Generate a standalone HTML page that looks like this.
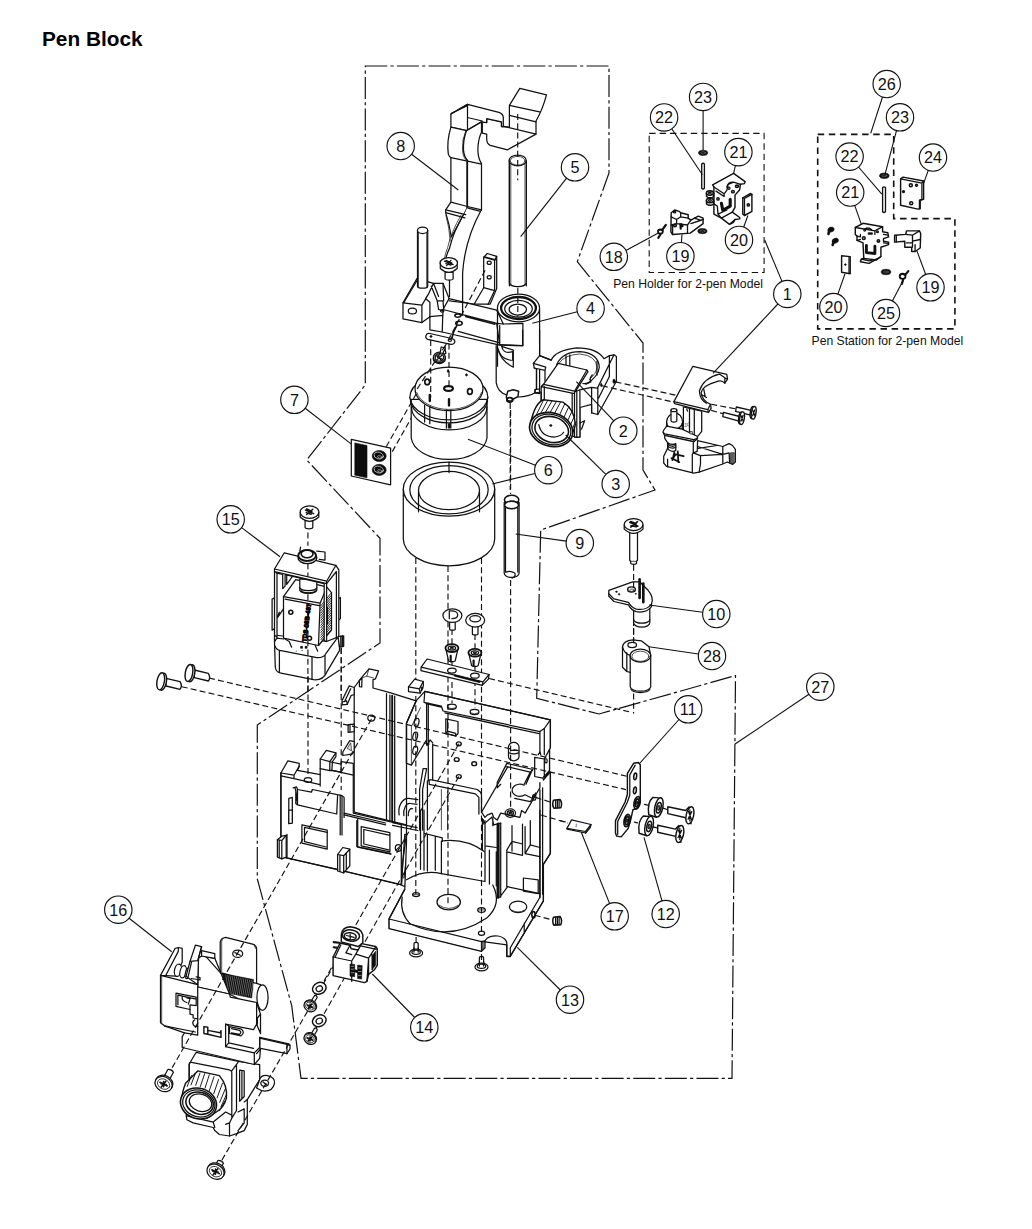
<!DOCTYPE html>
<html lang="en"><head><meta charset="utf-8"><title>Pen Block</title>
<style>
html,body{margin:0;padding:0;background:#fff;}
body{width:1032px;height:1229px;overflow:hidden;font-family:"Liberation Sans",sans-serif;}
svg{display:block;}
.p{fill:none;stroke:#111;stroke-width:1.25;stroke-linejoin:round;stroke-linecap:round;}
.w{fill:#fff;stroke:#111;stroke-width:1.25;stroke-linejoin:round;stroke-linecap:round;}
.t{fill:none;stroke:#222;stroke-width:0.8;stroke-linejoin:round;stroke-linecap:round;}
.k{fill:#0c0c0c;stroke:#0c0c0c;stroke-width:0.6;stroke-linejoin:round;}
.g{fill:#ddd;stroke:#1a1a1a;stroke-width:0.7;stroke-linejoin:round;}
.dd{fill:none;stroke:#111;stroke-width:1.2;stroke-dasharray:22 3.2 3.2 3.2;}
.da{fill:none;stroke:#111;stroke-width:1.15;stroke-dasharray:6 3.2;}
.db{fill:none;stroke:#111;stroke-width:1.1;stroke-dasharray:6.4 4;}
.ld{fill:none;stroke:#111;stroke-width:1.1;}
.c{fill:#fff;stroke:#111;stroke-width:1.15;}
.n{font-family:"Liberation Sans",sans-serif;font-size:16.2px;fill:#111;text-anchor:middle;}
.lb{font-family:"Liberation Sans",sans-serif;font-size:12.2px;fill:#111;}
</style></head><body>
<svg width="1032" height="1229" viewBox="0 0 1032 1229">
<rect width="1032" height="1229" fill="#fff"/>
<g id="title">
<text x="42" y="45.8" font-family="Liberation Sans, sans-serif" font-weight="bold" font-size="20.8px" fill="#000">Pen Block</text>
<text class="lb" x="613.2" y="287.7">Pen Holder for 2-pen Model</text>
<text class="lb" x="811.5" y="345">Pen Station for 2-pen Model</text>
</g>
<g id="outlines">
<path class="dd" d="M365.3 66H609V173L577.3 261.7L643 343V470L655 490L540.7 530L536.7 698.3L599 714L735.5 675.6L732 1078.4H301L291.7 1005.7L257.3 879V725L380 643V538.3L306.7 460L365.3 385Z"/>
<path class="db" d="M649.2 133.4H764.1V272.5H649.2Z"/>
<path class="db" d="M817.7 134.4H893.7V218.6H954.9V328.9H817.7Z" style="stroke-width:1.6;stroke-dasharray:6.5 4.6"/>
</g>
<g id="bracket">
<path class="w" d="M483.7 257.2 L487.3 253.5 L496.7 256.4 V288.4 L490.2 304.0 L474.2 304.0 L483.7 287.7Z"/>
<path class="p" d="M483.7 257.2 L494.6 260.1 V290.6 L488.0 304.4 M494.6 260.1 L496.7 256.4 M483.7 287.7 L494.6 290.6 M484.7 256.9 L495.6 259.8"/>
<ellipse class="p" cx="489.2" cy="262.7" rx="2.0" ry="1.7"/>
<ellipse class="p" cx="489.2" cy="277.2" rx="2.0" ry="1.7"/>
<path class="w" d="M403.0 302.9 L416.8 278.7 L433.5 283.3 L443.0 283.3 L449.1 298.6 L496.7 310.2 L503.3 324.0 L496.7 323.3 L499.7 345.1 L442.2 332.0 L429.9 329.8 V316.7 L421.9 322.6 L403.0 318.9Z"/>
<path class="p" d="M403.0 302.9 L421.9 305.1 V322.6 M421.9 305.1 L428.4 294.2 L433.5 283.3 M404.0 302.2 L417.5 279.7 M428.4 294.2 L425.5 298.6 L429.9 302.2 V316.7 M431.3 286.2 L437.2 300.8 H443.0 L443.7 309.5 M433.5 283.3 L438.6 296.4 M443.0 283.3 L443.7 300.8 M437.2 300.8 L438.6 309.5"/>
<ellipse class="p" cx="412.4" cy="310.9" rx="4.1" ry="2.9"/>
<path class="p" d="M449.1 298.6 L443.0 309.5 L496.7 323.3 M449.5 300.8 L474.2 304.0 M464.8 315.3 L495.3 322.8 M465.5 316.7 L495.0 324.3 M443.0 309.5 L442.2 332.0 M443.0 315.3 L429.9 316.7 M443.0 310.9 L438.6 309.5"/>
<path class="p" d="M458.2 331.3 L499.7 342.9"/>
<path class="w" d="M417.5 230.3 V286.2 A5.1 2.0 0 0 0 427.7 286.2 V230.3Z"/>
<path class="t" d="M418.5 231.0 V286.9 M426.7 231.0 V286.9"/>
<ellipse class="w" cx="422.6" cy="230.3" rx="5.1" ry="3.2"/>
<path class="p" d="M497.5 309.5 V366.2 M539.6 309.5 V366.2 M499.7 325.5 V342.9 M522.9 323.3 V345.8 L499.7 345.1 M503.3 324.0 L522.9 323.3"/>
<path class="p" d="M497.5 347.3 Q499.7 358.9 511.3 360.3 M501.8 346.5 Q503.3 354.5 512.7 351.6 V360.3"/>
<ellipse class="w" cx="518.5" cy="308.0" rx="21.1" ry="13.8"/>
<ellipse class="p" cx="518.5" cy="308.0" rx="17.4" ry="11.0" style="stroke-width:2.28"/>
<ellipse class="p" cx="518.5" cy="308.8" rx="13.8" ry="8.4"/>
<ellipse class="p" cx="517.8" cy="309.5" rx="8.7" ry="5.5"/>
<path class="da" d="M517.8 287.7 V316.7"/>
</g>
<g id="top">
<path class="w" d="M519.8 88.4 L546.5 94.8 Q542.5 109.7 536.0 121.0 V134.1 L507.6 149.8 L490.2 145.4 Q486.7 143.7 486.7 139.3 V134.1 L482.3 133.2 L482.3 122.7 L486.7 121.9 V118.7 L501.5 121.9 V126.7 L509.4 127.1 V105.3Z"/>
<path class="p" d="M509.4 105.3 L539.5 111.9 M509.4 115.4 L536.0 121.9 M503.3 126.2 L536.0 134.1"/>
<path class="w" d="M467.5 104.4 L498.9 112.3 Q503.3 114.0 503.3 117.5 V126.7 L501.5 126.4 V121.9 L486.7 118.7 V122.7 L481.5 121.9 L466.6 130.6 L450.9 127.1 V114.0Z"/>
<path class="p" d="M450.9 114.0 L467.5 104.4 M467.5 104.4 V130.6 M451.8 113.1 L467.8 105.5 M467.5 117.5 L482.3 121.0"/>
<path class="w" d="M450.9 127.1 Q446.6 141.0 448.3 154.1 Q449.2 156.7 450.9 157.6 V202.1 L445.7 209.9 V212.6 Q449.5 224.8 451.3 237.0 Q461.4 219.5 467.5 207.3 V160.2 Q464.0 156.7 463.5 149.8 Q463.1 139.3 466.6 130.6Z"/>
<path class="w" d="M466.6 130.6 Q463.1 139.3 463.5 149.8 Q464.0 156.7 467.5 160.2 V207.3 Q461.4 219.5 456.2 233.5 L473.6 230.0 Q476.2 221.3 481.5 209.9 V163.7 Q477.1 156.7 478.0 146.3 Q478.8 137.6 481.5 132.3 V121.9Z" style="stroke:none"/>
<path class="p" d="M467.5 207.3 V160.2 Q464.0 156.7 463.5 149.8 Q463.1 139.3 466.6 130.6 L481.5 121.9 V132.3 Q478.8 137.6 478.0 146.3 Q477.1 156.7 481.5 163.7 V209.9"/>
<path class="p" d="M450.9 157.6 L467.5 161.1 L481.5 164.1 M450.9 202.1 L467.5 206.5 L481.5 209.9 M445.7 209.9 L465.8 214.7 M445.7 212.6 L464.9 217.8 M468.0 208.2 L479.7 211.2"/>
<path class="t" d="M465.8 130.9 Q461.9 139.3 462.4 149.8 Q463.0 157.6 466.6 160.6 V208.2"/>
<path class="p" d="M509.4 160.6 V285.8 M526.3 160.6 V285.8"/>
<path class="w" d="M509.4 160.5V283A8.5 4 0 0 0 526.3 283V160.5Z"/>
<path class="t" d="M510.8 163V285M525 163V285"/>
<ellipse class="w" cx="517.7" cy="160.4" rx="8.5" ry="5.4"/>
<ellipse class="t" cx="517.7" cy="160.8" rx="7.3" ry="4.4"/>
<path class="da" d="M517.7 114.0 V180.3"/>
</g>
<g id="bracket2">
<path class="p" d="M481.5 209.5 Q464.8 239.7 462.6 273.1 V315.3"/>
<path class="p" d="M463.3 215.0 Q453.1 232.4 449.5 248.4 Q446.6 254.2 445.9 258.6"/>
<path class="t" d="M461.1 215.0 Q451.0 232.4 447.6 247.7 Q445.1 253.5 444.4 258.6"/>
<path class="t" d="M445.9 215.0 Q449.5 228.1 450.2 241.2"/>
<path class="w" d="M445.1 272.4 V279.0 A4.1 1.5 0 0 0 453.1 279.0 V272.4Z"/>
<path class="w" d="M440.3 263.4 V268.5 Q448.8 276.3 457.2 268.5 V263.4Z"/>
<ellipse class="w" cx="448.8" cy="263.0" rx="8.7" ry="5.5"/>
<path class="p" d="M444.4 261.2 L453.1 264.7 M451.0 260.3 L446.6 265.6 M445.9 260.3 L452.0 263.0 M445.9 263.7 L451.0 265.1"/>
<path class="p" d="M449.5 280.4 V296.4"/>
<path class="w" d="M426.2 334.9 Q424.8 337.8 427.7 339.3 L451.0 344.4 Q454.6 344.4 454.9 341.5 Q454.6 339.3 451.7 338.5 L429.9 333.5 Q427.0 333.0 426.2 334.9Z"/>
<ellipse class="k" cx="431.0" cy="336.4" rx="1.2" ry="0.9"/>
<ellipse class="p" cx="449.9" cy="340.3" rx="1.6" ry="1.2"/>
<path class="p" d="M451.7 338.5 Q453.1 331.3 456.8 325.5" style="stroke-width:1.68"/>
<ellipse class="p" cx="459.0" cy="323.3" rx="3.2" ry="2.0" style="stroke-width:1.56"/>
<ellipse class="p" cx="457.8" cy="315.6" rx="2.9" ry="1.7" style="stroke-width:1.56"/>
<ellipse class="p" cx="442.2" cy="310.9" rx="1.7" ry="1.2"/>
<path class="w" d="M441.5 350.9 L445.1 349.4 L445.9 353.1 L442.2 355.3Z"/>
<ellipse class="w" cx="439.3" cy="358.2" rx="6.1" ry="5.5"/>
<ellipse class="p" cx="439.3" cy="358.2" rx="4.4" ry="3.9"/>
<path class="p" d="M436.4 356.0 L442.2 360.3 M441.8 355.7 L436.9 360.6 M437.9 355.3 L440.8 361.1 M435.7 358.2 L443.0 358.2"/>
<path class="da" d="M485.1 270.2 L443.0 350.2"/>
</g>
<g id="coil">
<path class="da" d="M386.2 446.7 L422.0 383.6 M392.3 451.6 L430.7 383.6"/>
<path class="w" d="M351.3 439.4 L390.6 448.1 V484.8 L351.3 476.0Z"/>
<path class="k" d="M354.8 442.9 L367.0 445.5 V477.8 L354.8 475.2Z"/>
<ellipse class="k" cx="379.2" cy="456.0" rx="7.0" ry="5.6"/>
<ellipse class="p" cx="378.7" cy="455.6" rx="4.7" ry="3.3" transform="rotate(15 378.7 455.6)" style="stroke:#ddd;stroke-width:0.7"/>
<ellipse class="p" cx="379.8" cy="457.0" rx="2.3" ry="1.2" transform="rotate(15 379.8 457.0)" style="stroke:#ccc;stroke-width:0.6"/>
<ellipse class="k" cx="379.2" cy="469.9" rx="7.0" ry="5.6"/>
<ellipse class="p" cx="378.7" cy="469.6" rx="4.7" ry="3.3" transform="rotate(15 378.7 469.6)" style="stroke:#ddd;stroke-width:0.7"/>
<ellipse class="p" cx="379.8" cy="471.0" rx="2.3" ry="1.2" transform="rotate(15 379.8 471.0)" style="stroke:#ccc;stroke-width:0.6"/>
<path class="w" d="M403.3 489.1 V538.8 A45.7 27.0 0 0 0 494.7 538.8 V489.1Z"/>
<ellipse class="w" cx="449.0" cy="489.1" rx="45.7" ry="27.0"/>
<ellipse class="p" cx="449.0" cy="489.8" rx="39.2" ry="24.1"/>
<ellipse class="p" cx="449.0" cy="490.5" rx="30.5" ry="19.2"/>
<path class="p" d="M418.5 491.7 V511.8 M479.5 491.7 V511.8"/>
<path class="w" d="M411.2 399.3 V437.7 A38.0 23.5 0 0 0 487.0 437.7 V399.3Z"/>
<path class="p" d="M409.8 397.6 A39.2 24.4 0 0 0 487.9 397.6"/>
<path class="p" d="M410.5 401.0 A38.7 24.1 0 0 0 487.6 401.0"/>
<path class="p" d="M411.5 407.2 A37.7 22.7 0 0 0 486.9 407.2"/>
<path class="p" d="M409.8 397.6 A39.2 24.4 0 0 1 422.0 380.1 M487.9 397.6 A39.2 24.4 0 0 0 476.0 380.1"/>
<ellipse class="w" cx="449.0" cy="388.8" rx="34.0" ry="21.8"/>
<path class="t" d="M416.7 392.3 A33.1 21.3 0 0 0 481.6 392.3"/>
<ellipse class="p" cx="448.5" cy="388.5" rx="4.4" ry="2.4" style="stroke-width:2.16"/>
<ellipse class="p" cx="427.2" cy="381.9" rx="2.4" ry="2.8" style="stroke-width:1.68"/>
<ellipse class="p" cx="469.9" cy="391.5" rx="2.4" ry="2.8" style="stroke-width:1.68"/>
<ellipse class="k" cx="448.1" cy="371.0" rx="0.9" ry="1.4"/>
<ellipse class="k" cx="466.5" cy="374.9" rx="0.9" ry="1.2"/>
<path class="p" d="M429.8 394.9 V401.0 M449.0 399.3 V405.4" style="stroke-width:2.4"/>
<path class="p" d="M424.6 405.4 V422.0 M429.8 406.3 V423.7 M446.4 409.8 V428.1 M450.8 409.8 V428.1"/>
<path class="k" d="M448.1 423.7 H450.2 V428.1 H448.1Z"/>
<path class="da" d="M449.0 343.5 V388.8"/>
<path class="p" d="M449.0 462.1 V472.6"/>
<ellipse class="w" cx="439.4" cy="357.4" rx="5.8" ry="5.2"/>
<ellipse class="p" cx="439.4" cy="357.4" rx="4.2" ry="3.7"/>
<path class="w" d="M442.9 353.1 L445.5 347.8 L441.2 347.0 L440.3 352.2"/>
<path class="p" d="M436.3 355.7 L442.6 359.5 M442.0 355.3 L436.8 359.9 M437.7 354.7 L441.2 360.6"/>
<path class="da" d="M430.7 340.0 V397.6 M445.5 345.2 L415.0 392.3"/>
</g>
<g id="holder">
<path class="p" d="M496.2 345.5 V382.7 Q497.8 392.8 507.1 395.1 M539.6 330.0 V359.5 M499.3 344.7 L522.6 345.5 V330.0 M498.5 350.2 Q500.9 361.0 513.3 367.2 V350.2 L501.6 346.3"/>
<path class="p" d="M517.9 397.0 Q528.8 396.7 536.5 392.0"/>
<path class="w" d="M507.8 391.2 L513.3 389.7 L518.7 391.2 L517.9 396.7 L513.3 399.0 L511.7 401.3 L507.1 400.5 L506.3 396.7Z" style="stroke-width:1.44"/>
<ellipse class="p" cx="509.8" cy="399.8" rx="2.8" ry="2.2" style="stroke-width:1.92"/>
<path class="w" d="M533.4 363.3 L539.6 355.6 L551.2 360.2 Q555.1 350.2 576.8 347.8 Q597.0 347.8 604.0 358.7 L609.4 355.6 L614.0 354.8 L616.4 356.4 V381.2 L597.8 414.5 L591.6 412.9 V404.4 L579.9 407.5 V437.0 H574.5 L541.2 416.8 V392.0 L535.0 392.8 V389.7 L536.5 388.9 V368.8 L534.2 368.0Z"/>
<path class="p" d="M556.7 364.4 Q562.9 351.7 579.9 351.7 Q598.5 353.3 599.3 367.2 Q598.5 376.5 586.1 384.3"/>
<path class="t" d="M559.0 363.3 Q564.4 354.8 579.9 354.0 Q596.2 355.6 597.0 367.2 Q596.7 373.4 589.2 379.6"/>
<path class="p" d="M566.0 355.6 V364.9 M569.8 354.8 V366.0 M597.0 361.0 V375.0"/>
<path class="p" d="M592.3 375.0 Q589.2 378.1 590.8 381.9 Q586.1 384.3 583.0 383.5"/>
<path class="p" d="M533.4 363.3 L545.8 367.2 L545.0 370.3 L534.2 368.0 M539.6 355.6 L551.2 360.2 M536.5 368.8 V388.9 M539.6 369.5 V390.5 M535.0 389.7 L539.6 388.9 V393.6 L535.0 392.8ZM545.0 370.3 V381.2"/>
<path class="p" d="M609.4 355.6 V376.5 L598.5 398.2 M614.0 354.8 L597.8 387.4 V414.5 M591.6 387.4 L597.0 388.1 M591.6 387.4 V412.9 M580.7 389.7 L591.6 387.4 M616.4 381.2 L614.0 381.9"/>
<ellipse class="k" cx="614.0" cy="381.2" rx="1.1" ry="2.2"/>
<ellipse class="k" cx="601.3" cy="385.0" rx="0.8" ry="1.7"/>
<path class="w" d="M543.5 384.3 L558.2 363.3 L586.9 370.0 L588.0 371.6 L575.3 391.7 L579.9 389.7 V437.0 H574.5 V393.6 L541.2 386.6Z"/>
<path class="p" d="M543.5 384.3 L574.5 391.2 L586.9 370.0 M574.5 391.2 V393.6 M543.5 384.3 L541.2 387.4 V414.5 M544.3 386.6 V414.5 M572.2 393.6 V423.0 M576.8 391.2 V437.0 M579.9 423.0 L584.6 420.7 L581.5 429.2"/>
<path class="w" d="M530.6 423.0 Q535.0 402.9 543.5 399.8 L562.9 402.1 Q574.5 409.1 575.3 424.6 Q573.7 435.4 564.4 441.6 L536.5 438.5Z" style="stroke-width:1.44"/>
<path class="p" d="M543.5 400.1 L536.5 414.5" style="stroke-width:0.95"/>
<path class="p" d="M547.7 400.5 L540.9 412.9" style="stroke-width:0.95"/>
<path class="p" d="M552.0 401.0 L545.5 412.2" style="stroke-width:0.95"/>
<path class="p" d="M556.4 401.6 L550.2 412.2" style="stroke-width:0.95"/>
<path class="p" d="M560.5 402.2 L554.8 412.9" style="stroke-width:0.95"/>
<path class="p" d="M564.7 404.1 L559.5 415.0" style="stroke-width:0.95"/>
<path class="p" d="M568.8 406.7 L563.8 417.6" style="stroke-width:0.95"/>
<path class="p" d="M572.2 410.6 L567.5 421.2" style="stroke-width:0.95"/>
<path class="p" d="M574.5 416.0 L570.3 425.3" style="stroke-width:0.95"/>
<path class="p" d="M575.3 422.2 L571.9 430.0" style="stroke-width:0.95"/>
<ellipse class="w" cx="551.2" cy="429.5" rx="22.0" ry="16.7" transform="rotate(16 551.2 429.5)" style="stroke-width:1.68"/>
<ellipse class="p" cx="551.4" cy="429.5" rx="19.8" ry="14.9" transform="rotate(16 551.4 429.5)"/>
<ellipse class="p" cx="551.7" cy="429.5" rx="17.1" ry="12.7" transform="rotate(16 551.7 429.5)" style="stroke-width:1.56"/>
<path class="p" d="M538.8 424.6 Q541.2 437.0 555.1 437.0 Q561.3 436.2 563.6 432.3"/>
<ellipse class="k" cx="550.8" cy="425.5" rx="1.2" ry="0.9"/>
<path class="da" d="M510.2 402.9 V490.0"/>
</g>
<g id="p1">
<path class="da" d="M615.6 381.9 L676.6 395.4 M601.9 385.8 L673.9 402.2 M711.2 404.3 L736.3 409.0 M711.2 410.4 L723.4 413.8"/>
<path class="w" d="M683.4 407.0 V431.4 L689.5 434.1 L694.3 436.8 L696.3 438.2 L701.7 431.4 V411.1Z"/>
<path class="p" d="M689.5 408.3 V434.1 M694.3 409.7 V436.8 M686.8 409.0 L687.5 411.1"/>
<path class="w" d="M673.9 401.6 L692.9 366.3 L726.8 374.4 L727.5 379.2 L724.8 383.2 Q721.4 379.2 716.0 381.9 Q703.1 385.3 701.1 392.7 Q701.7 400.2 710.5 404.3 L711.2 408.3 L708.5 412.4 L674.6 403.6Z"/>
<path class="p" d="M673.9 401.6 L707.8 409.7 L710.5 404.3 M707.8 409.7 L708.5 412.4 M719.4 374.1 Q703.8 377.8 699.4 390.7 Q699.7 399.5 706.5 403.2 M719.4 374.1 L724.8 377.8 L727.5 379.2 M724.8 377.8 L724.8 383.2 M703.8 389.3 L705.1 396.1 M701.7 394.8 L706.5 397.5"/>
<path class="w" d="M666.6 422.3 Q666.6 415.5 674.4 412.6 Q682.1 413.6 682.6 422.3 L682.1 429.1 L666.6 429.1Z"/>
<path class="p" d="M666.6 422.3 Q667.1 429.1 674.4 429.1 Q681.2 428.6 682.3 422.8"/>
<path class="w" d="M671.0 410.2 V420.8 A2.9 1.2 0 0 0 676.8 420.8 V410.2Z"/>
<ellipse class="w" cx="673.9" cy="410.2" rx="2.9" ry="1.5"/>
<path class="w" d="M663.2 431.0 L666.6 426.2 L682.1 429.1 L697.2 436.3 L697.6 438.8 L693.8 441.7 L664.7 435.7 L663.2 432.5Z"/>
<path class="p" d="M663.2 432.5 L664.7 433.9 L693.8 439.7 L697.6 438.3 M693.8 439.7 V441.7"/>
<path class="w" d="M664.7 435.4 V438.3 L667.6 442.6 V448.4 L663.7 456.2 V463.0 L666.6 466.4 L693.8 473.2 L699.1 472.2 L722.8 464.0 L727.2 462.0 L729.6 463.0 L732.5 464.4 L735.4 462.0 V449.4 L732.5 445.5 L729.1 443.6 L722.8 446.5 L697.6 440.7 L697.2 451.4 L693.3 452.8 V441.7Z"/>
<path class="p" d="M697.6 446.5 L722.8 454.3 L729.1 452.8 L729.6 463.0 M698.1 448.4 L717.0 445.5 M700.5 455.7 L722.8 454.3 V463.5 M700.5 455.7 V464.0 L699.1 472.2 M693.3 452.8 L700.5 455.7 M693.3 452.8 L692.3 454.3 V472.7 M667.6 459.1 V466.9 M722.8 446.5 V454.3"/>
<path class="g" d="M730.1 453.3 Q732.5 451.8 734.9 453.3 V462.0 Q733.0 464.4 730.4 463.2Z"/>
<path class="t" d="M730.9 453.1 V463.5"/>
<path class="t" d="M731.8 453.1 V463.5"/>
<path class="t" d="M732.8 453.1 V463.5"/>
<path class="t" d="M733.8 453.1 V463.5"/>
<path class="w" d="M668.1 443.1 Q672.0 445.5 675.8 443.6 V450.4 Q672.0 452.8 668.1 449.4Z"/>
<path class="p" d="M668.1 444.6 Q672.0 447.5 675.8 445.3 M668.1 446.5 Q672.0 449.4 675.8 447.3"/>
<path class="p" d="M674.4 452.3 L672.4 460.1 M671.5 458.1 L679.2 462.0 M675.8 454.3 L683.6 456.2 M677.8 451.4 L678.3 462.0 M672.4 459.1 L675.8 454.3" style="stroke-width:1.8"/>
<text x="684.1" y="426.4" font-family="Liberation Sans, sans-serif" font-size="5.2px" font-style="italic" fill="#111" transform="rotate(-8 686.0 424.2)">10</text>
<path class="g" d="M689.9 431.5 H692.3 V433.9 H689.9Z"/>
<path class="w" d="M736.3 407.0 L751.2 410.4 L750.6 415.1 L735.6 411.3Z" style="stroke-width:1.32"/>
<ellipse class="w" cx="752.3" cy="412.5" rx="2.0" ry="6.1" transform="rotate(8 752.3 412.5)" style="stroke-width:1.44"/>
<ellipse class="w" cx="753.7" cy="412.8" rx="2.3" ry="6.4" transform="rotate(8 753.7 412.8)" style="stroke-width:1.44"/>
<path class="p" d="M752.6 410.1 L754.8 415.5 M754.8 409.8 L752.6 415.8"/>
<path class="w" d="M723.4 412.4 L739.7 416.5 L739.0 421.2 L722.8 416.7Z" style="stroke-width:1.32"/>
<ellipse class="w" cx="740.7" cy="418.0" rx="2.0" ry="6.1" transform="rotate(8 740.7 418.0)" style="stroke-width:1.44"/>
<ellipse class="w" cx="742.0" cy="418.2" rx="2.3" ry="6.4" transform="rotate(8 742.0 418.2)" style="stroke-width:1.44"/>
<path class="p" d="M740.9 415.5 L743.1 421.0 M743.1 415.3 L740.9 421.2"/>
</g>
<g id="p10">
<path class="da" d="M633.6 564.7 V713.4"/>
<path class="w" d="M629.7 531.4 V560.4 L630.7 561.3 V563.3 A2.9 1.0 0 0 0 636.5 563.3 V561.3 L637.5 560.4 V531.4Z"/>
<path class="t" d="M630.7 561.3 H636.5"/>
<path class="w" d="M624.2 525.0 V529.1 Q633.6 537.7 643.0 529.1 V525.0Z"/>
<ellipse class="w" cx="633.6" cy="524.5" rx="9.4" ry="6.0"/>
<path class="p" d="M629.7 522.3 L637.9 526.2 M637.5 521.6 L630.7 527.1 M630.7 521.6 L636.2 523.7 M631.0 525.7 L636.5 526.8" style="stroke-width:1.56"/>
<path class="w" d="M633.6 608.3 V622.8 A8.0 4.3 0 0 0 649.8 622.8 V608.3Z"/>
<path class="p" d="M633.6 619.4 A8.0 3.8 0 0 0 649.8 619.4"/>
<path class="w" d="M608.8 590.3 L632.7 581.8 H639.6 L648.1 590.3 Q654.1 597.2 651.5 604.0 V606.6 Q646.4 613.4 636.2 611.7 Q631.0 610.0 628.5 604.9 L613.9 601.5 L608.8 596.3Z"/>
<path class="p" d="M608.8 593.8 L613.9 598.9 L628.5 602.3 Q631.0 607.4 636.2 609.1 Q646.4 610.9 651.5 604.0"/>
<ellipse class="p" cx="631.5" cy="589.5" rx="3.8" ry="2.6" style="stroke-width:1.44"/>
<ellipse class="t" cx="631.9" cy="590.3" rx="2.1" ry="1.2"/>
<ellipse class="k" cx="616.5" cy="591.7" rx="0.9" ry="0.7"/>
<ellipse class="k" cx="619.1" cy="594.3" rx="0.9" ry="0.7"/>
<ellipse class="k" cx="635.8" cy="593.8" rx="0.7" ry="0.5"/>
<path class="p" d="M639.6 579.2 V598.0 M643.3 583.5 V602.3" style="stroke-width:2.64"/>
<path class="da" d="M633.6 581.8 V587.8"/>
<path class="w" d="M622.5 646.8 Q623.3 640.8 632.7 639.9 L641.3 640.8 L649.0 646.8 L650.7 655.3 V686.9 A10.3 4.8 0 0 1 630.2 686.9 V672.4 L626.8 671.5 L622.5 667.3Z"/>
<path class="p" d="M622.5 646.8 Q624.2 653.6 630.2 655.3 M626.8 652.7 V671.5 M630.2 655.3 V672.4 M631.0 689.5 A9.9 4.4 0 0 0 649.8 689.5"/>
<ellipse class="w" cx="640.4" cy="655.6" rx="10.3" ry="6.5"/>
<ellipse class="t" cx="640.4" cy="656.3" rx="8.5" ry="5.1"/>
<ellipse class="p" cx="632.2" cy="645.0" rx="4.3" ry="2.6"/>
<path class="da" d="M633.6 627.9 V642.5"/>
</g>
<g id="p11">
<path class="w" d="M627.4 773.3 L633.6 763.3 L638.3 762.5 L640.3 764.8 V802.0 L637.5 808.2 L632.9 809.8 L630.5 820.6 L628.2 828.4 L621.2 836.9 L616.6 836.1 L615.5 833.0 V820.6 L625.1 802.0 L627.4 794.3Z" style="stroke-width:1.44"/>
<path class="p" d="M629.8 774.9 L635.2 765.1 M629.8 774.9 V795.0 L627.4 802.0 L617.7 821.4 V834.6"/>
<ellipse class="p" cx="635.2" cy="776.4" rx="1.4" ry="3.3" transform="rotate(8 635.2 776.4)" style="stroke-width:1.56"/>
<ellipse class="p" cx="634.9" cy="790.4" rx="1.4" ry="3.3" transform="rotate(8 634.9 790.4)" style="stroke-width:1.56"/>
<ellipse class="p" cx="637.1" cy="802.8" rx="2.9" ry="6.2" transform="rotate(12 637.1 802.8)" style="stroke-width:1.8"/>
<ellipse class="p" cx="637.1" cy="802.8" rx="1.7" ry="4.0" transform="rotate(12 637.1 802.8)" style="stroke-width:1.8"/>
<ellipse class="k" cx="637.1" cy="802.8" rx="0.8" ry="1.9" transform="rotate(12 637.1 802.8)"/>
<ellipse class="p" cx="627.1" cy="820.6" rx="2.9" ry="6.2" transform="rotate(12 627.1 820.6)" style="stroke-width:1.8"/>
<ellipse class="p" cx="627.1" cy="820.6" rx="1.7" ry="4.0" transform="rotate(12 627.1 820.6)" style="stroke-width:1.8"/>
<ellipse class="k" cx="627.1" cy="820.6" rx="0.8" ry="1.9" transform="rotate(12 627.1 820.6)"/>
<path class="w" d="M653.0 797.4 Q647.1 802.0 648.7 814.7 L656.4 817.2 L660.8 798.1Z" style="stroke-width:1.44"/>
<ellipse class="w" cx="658.8" cy="807.4" rx="4.0" ry="9.8" transform="rotate(12 658.8 807.4)" style="stroke-width:1.44"/>
<ellipse class="p" cx="658.8" cy="807.8" rx="2.2" ry="5.3" transform="rotate(12 658.8 807.8)" style="stroke-width:1.56"/>
<ellipse class="p" cx="658.8" cy="807.9" rx="0.9" ry="2.2" transform="rotate(12 658.8 807.9)"/>
<path class="w" d="M643.4 816.0 Q637.5 820.6 639.1 833.3 L646.8 835.8 L651.2 816.7Z" style="stroke-width:1.44"/>
<ellipse class="w" cx="649.1" cy="826.0" rx="4.0" ry="9.8" transform="rotate(12 649.1 826.0)" style="stroke-width:1.44"/>
<ellipse class="p" cx="649.1" cy="826.4" rx="2.2" ry="5.3" transform="rotate(12 649.1 826.4)" style="stroke-width:1.56"/>
<ellipse class="p" cx="649.1" cy="826.5" rx="0.9" ry="2.2" transform="rotate(12 649.1 826.5)"/>
<path class="w" d="M667.8 806.7 L685.6 810.5 L689.0 807.0 L691.0 823.7 L684.8 817.5 L667.8 813.6Z" style="stroke-width:1.44"/>
<ellipse class="w" cx="689.9" cy="815.3" rx="3.7" ry="8.7" transform="rotate(12 689.9 815.3)" style="stroke-width:1.44"/>
<path class="p" d="M688.4 811.3 L691.5 819.4 M691.8 811.6 L688.1 819.1 M689.9 809.8 V820.9"/>
<path class="w" d="M657.7 825.3 L675.5 829.1 L678.9 825.6 L680.9 842.3 L674.7 836.1 L657.7 832.2Z" style="stroke-width:1.44"/>
<ellipse class="w" cx="679.8" cy="834.0" rx="3.7" ry="8.7" transform="rotate(12 679.8 834.0)" style="stroke-width:1.44"/>
<path class="p" d="M678.3 829.9 L681.4 838.0 M681.7 830.2 L678.0 837.7 M679.8 828.4 V839.5"/>
<path class="p" d="M644.5 804.3 L647.6 805.1 M634.4 822.2 L637.5 822.9 M663.1 808.2 L667.0 809.5 M653.0 826.8 L656.9 827.9"/>
<path class="w" d="M567.0 828.4 L571.6 819.8 L591.0 824.5 L590.2 827.6 L585.6 833.0 L567.0 829.1Z"/>
<path class="p" d="M567.0 828.4 L585.6 831.5 L591.0 824.5 M585.6 831.5 V833.0"/>
<text x="574.9" y="827.1" font-family="Liberation Sans, sans-serif" font-size="5px" fill="#111" transform="rotate(12 576.1 825.0)">1</text>
<path class="da" d="M560.0 820.6 L567.8 822.5"/>
</g>
<g id="box1">
<ellipse class="k" cx="703.1" cy="152.8" rx="4.6" ry="2.6"/>
<ellipse class="p" cx="703.1" cy="152.8" rx="2.6" ry="1.1" style="stroke:#aaa;stroke-width:0.4"/>
<ellipse class="k" cx="702.4" cy="231.1" rx="4.6" ry="2.6"/>
<ellipse class="p" cx="702.4" cy="231.1" rx="2.6" ry="1.1" style="stroke:#aaa;stroke-width:0.4"/>
<path class="w" d="M701.7 163.9 Q703.1 162.6 704.4 163.9 V188.3 Q703.1 189.7 701.7 188.3Z" style="stroke-width:1.32"/>
<path class="w" d="M712.6 184.9 L733.6 173.4 L745.1 181.6 L744.5 183.6 L740.4 184.3 L739.7 189.7 L735.0 195.1 V207.3 L732.3 212.1 L739.7 217.5 V218.9 L735.0 219.5 L733.6 222.3 L729.5 224.3 L721.4 218.2 L713.9 214.1 V187.0Z" style="stroke-width:1.44"/>
<path class="p" d="M713.9 187.0 L724.1 193.8 L726.8 190.4 L728.2 184.3 L733.6 182.2 L740.4 184.3 M724.1 193.8 V196.5 L716.0 191.1 M733.6 182.2 Q728.2 181.6 726.8 187.0 M713.9 203.9 L717.3 206.0 L718.0 214.1 L721.4 218.2 M729.5 224.3 L735.0 219.5 M721.4 218.2 L732.3 212.1 M718.0 214.1 L726.8 210.0" style="stroke-width:1.32"/>
<path class="p" d="M721.4 203.3 L722.8 210.3 L730.2 206.2 V199.2" style="stroke-width:3.12"/>
<path class="w" d="M706.5 193.1 V196.5 Q709.9 199.2 713.7 196.5 V193.1" style="stroke-width:1.44"/>
<ellipse class="w" cx="709.9" cy="193.1" rx="3.5" ry="2.2" style="stroke-width:1.56"/>
<ellipse class="p" cx="709.9" cy="193.1" rx="1.4" ry="0.8"/>
<path class="w" d="M706.5 200.5 V203.9 Q709.9 206.7 713.7 203.9 V200.5" style="stroke-width:1.44"/>
<ellipse class="w" cx="709.9" cy="200.5" rx="3.5" ry="2.2" style="stroke-width:1.56"/>
<ellipse class="p" cx="709.9" cy="200.5" rx="1.4" ry="0.8"/>
<ellipse class="p" cx="732.9" cy="191.7" rx="1.4" ry="1.2" style="stroke-width:1.44"/>
<ellipse class="p" cx="737.0" cy="186.3" rx="1.5" ry="1.2" style="stroke-width:1.68"/>
<ellipse class="p" cx="718.0" cy="198.9" rx="1.2" ry="1.2" style="stroke-width:1.44"/>
<ellipse class="p" cx="728.9" cy="188.3" rx="1.1" ry="1.1"/>
<path class="w" d="M742.8 197.8 L750.6 193.5 L751.9 194.4 V211.4 L744.5 215.5 L742.8 214.1Z" style="stroke-width:1.44"/>
<path class="p" d="M744.5 198.5 V215.5 M744.5 198.5 L751.9 194.4 M742.8 197.8 L744.5 198.5"/>
<ellipse class="p" cx="748.3" cy="204.9" rx="1.1" ry="1.1" style="stroke-width:1.56"/>
<path class="w" d="M671.2 212.8 L674.6 210.0 L679.3 211.4 L680.7 212.8 L688.2 214.8 V218.2 L690.9 220.2 L698.3 216.1 L703.1 218.2 V223.6 L690.2 233.1 L672.6 234.5 L670.9 231.8Z" style="stroke-width:1.44"/>
<path class="p" d="M671.2 216.8 L676.6 219.5 L680.7 216.8 L688.2 218.2 M676.6 219.5 V223.6 L671.2 225.0 M676.6 223.6 L687.5 225.0 L690.9 220.2 M687.5 225.0 V233.1 M690.9 223.6 L703.1 219.5 M680.7 212.8 V216.8 M672.6 234.5 V225.0 M694.3 218.2 L699.7 219.8" style="stroke-width:1.32"/>
<ellipse class="p" cx="674.6" cy="212.1" rx="1.1" ry="0.8" style="stroke-width:1.44"/>
<ellipse class="p" cx="675.0" cy="225.6" rx="1.4" ry="1.2" style="stroke-width:1.56"/>
<path class="k" d="M679.6 223.6 H681.8 V225.0 H683.1 V227.0 H681.4 V229.3 H680.0Z"/>
<path class="p" d="M658.3 237.9 L660.4 234.5 M662.4 229.7 L665.8 225.0" style="stroke-width:2.16"/>
<ellipse class="w" cx="660.4" cy="231.5" rx="2.4" ry="2.2" style="stroke-width:1.8"/>
<path class="p" d="M658.3 230.4 Q660.4 229.0 662.8 230.7" style="stroke-width:1.56"/>
</g>
<g id="box2">
<ellipse class="k" cx="884.3" cy="175.8" rx="4.8" ry="2.7"/>
<ellipse class="p" cx="884.3" cy="175.8" rx="2.6" ry="1.0" style="stroke:#aaa;stroke-width:0.4"/>
<ellipse class="k" cx="886.0" cy="272.0" rx="4.8" ry="2.7"/>
<ellipse class="p" cx="886.0" cy="272.0" rx="2.6" ry="1.0" style="stroke:#aaa;stroke-width:0.4"/>
<path class="w" d="M882.6 187.5 Q884.0 186.2 885.5 187.5 V211.8 Q884.0 213.2 882.6 211.8Z" style="stroke-width:1.32"/>
<path class="w" d="M900.6 178.8 L903.1 177.1 L923.6 181.0 V199.3 L920.2 200.2 V208.7 L918.0 209.1 L900.6 205.3Z" style="stroke-width:1.44"/>
<path class="p" d="M900.6 178.8 L921.9 183.1 V199.3 L919.4 200.2 V208.7 M921.9 183.1 L923.6 181.0"/>
<ellipse class="p" cx="910.8" cy="185.2" rx="1.5" ry="1.5" style="stroke-width:1.56"/>
<ellipse class="p" cx="916.5" cy="185.2" rx="1.0" ry="1.0" style="stroke-width:1.44"/>
<ellipse class="p" cx="903.5" cy="191.6" rx="0.9" ry="0.9" style="stroke-width:1.56"/>
<ellipse class="p" cx="911.2" cy="203.3" rx="1.5" ry="1.5" style="stroke-width:1.56"/>
<path class="w" d="M855.3 227.5 L863.0 223.3 L882.6 226.7 V231.8 L887.8 232.7 L888.6 236.9 L883.5 238.6 V241.2 L888.6 242.1 V244.6 L880.9 247.2 V256.6 L876.6 259.1 L869.0 263.4 L860.4 261.7 L861.3 259.1 L863.8 258.3 L863.0 242.9 L857.0 240.3 V236.1 L855.3 234.4Z" style="stroke-width:1.44"/>
<path class="p" d="M855.3 227.5 L874.9 230.9 L882.6 226.7 M874.9 230.9 V234.4 M857.0 236.1 L860.4 236.9 V234.4 M857.0 240.3 L860.4 239.5 M863.8 258.3 L876.6 260.0 L880.9 256.6 M883.5 234.4 L887.8 235.2 M883.5 242.9 L888.3 243.4 M861.3 259.1 L869.0 260.9 L876.6 259.1 M864.7 229.2 Q868.1 226.7 871.5 229.6" style="stroke-width:1.32"/>
<path class="p" d="M866.4 245.5 V252.6 L874.9 253.5 V246.3" style="stroke-width:2.88"/>
<ellipse class="p" cx="863.8" cy="238.1" rx="1.4" ry="1.4" style="stroke-width:1.56"/>
<ellipse class="p" cx="878.4" cy="240.9" rx="1.2" ry="1.2" style="stroke-width:1.56"/>
<ellipse class="p" cx="864.7" cy="230.1" rx="0.9" ry="0.9"/>
<ellipse class="p" cx="877.5" cy="231.8" rx="0.9" ry="0.9"/>
<path class="k" d="M868.1 232.7 H872.4 V234.4 H868.1Z"/>
<path class="w" d="M894.6 235.2 L905.7 234.4 L906.5 230.9 H919.4 L920.7 233.5 L920.2 248.0 L915.1 251.5 H911.7 V247.2 H904.8 V241.2 L894.6 242.1Z" style="stroke-width:1.44"/>
<path class="p" d="M896.3 235.7 V242.1 M905.7 234.4 L912.5 235.2 V247.2 M912.5 235.2 L919.4 230.9 M912.5 241.2 L920.2 239.5 M906.5 242.9 H911.7 M915.1 244.6 V251.5" style="stroke-width:1.32"/>
<path class="w" d="M841.6 255.7 L850.2 256.6 V273.7 L841.6 272.3Z" style="stroke-width:1.44"/>
<path class="p" d="M849.0 256.6 V273.3"/>
<ellipse class="k" cx="845.4" cy="264.6" rx="0.9" ry="0.9"/>
<ellipse class="k" cx="831.0" cy="229.6" rx="3.2" ry="2.4" transform="rotate(-20 831.0 229.6)"/>
<path class="p" d="M829.1 230.9 L828.5 233.9" style="stroke-width:2.64"/>
<ellipse class="k" cx="835.3" cy="240.7" rx="3.2" ry="2.4" transform="rotate(-20 835.3 240.7)"/>
<path class="p" d="M833.4 242.1 L832.7 245.0" style="stroke-width:2.64"/>
<path class="p" d="M908.3 271.1 L904.8 275.4 M903.1 279.6 L901.9 283.9" style="stroke-width:2.16"/>
<ellipse class="w" cx="902.6" cy="276.2" rx="2.9" ry="2.6" style="stroke-width:1.8"/>
<path class="p" d="M900.1 275.0 Q902.6 273.3 905.4 275.4" style="stroke-width:1.56"/>
</g>
<g id="chassis">
<path class="w" d="M354.2 687.5 L361.5 677.6 L369.0 668.8 L378.6 670.9 L375.5 678.8 L373.0 679.7 V688.0 L389.9 692.7 L416.1 700.9 L406.5 723.3 V763.4 L411.4 765.1 V826.2 L354.2 812.2Z"/>
<path class="p" d="M359.4 680.5 L362.0 677.9 L361.7 687.0 L359.4 686.6Z"/>
<path class="t" d="M369.0 668.8 L366.7 676.2 L373.4 677.9 M366.7 676.2 L362.0 677.9"/>
<path class="w" d="M354.2 687.5 L349.3 685.8 L342.0 700.6 L342.3 704.9 L347.2 704.4 L351.0 695.7 L354.2 694.5Z"/>
<path class="p" d="M344.6 701.5 L350.7 688.7 M347.2 704.4 L346.7 700.9 L342.3 702.0"/>
<path class="w" d="M354.2 724.1 L348.1 724.7 V732.3 L354.2 731.6Z"/>
<path class="p" d="M350.0 724.7 V732.0"/>
<path class="w" d="M354.2 741.6 L349.8 740.7 L342.8 752.0 V755.5 L352.4 753.8 L354.2 751.2Z"/>
<path class="g" d="M347.2 748.5 L350.7 742.8 L351.6 750.8Z"/>
<ellipse class="p" cx="371.3" cy="718.0" rx="3.5" ry="3.0"/>
<path class="p" d="M386.5 693.6 V821.8 M389.9 695.0 V824.4 M394.7 696.2 V826.2"/>
<path class="p" d="M392.2 695.7 V825.8" style="stroke-width:1.92"/>
<path class="w" d="M280.9 773.0 L287.9 760.8 L299.2 763.4 V766.5 L297.5 770.3 L320.2 774.7 V759.0 L326.3 750.3 L335.9 752.9 V756.7 L332.4 761.6 L331.9 770.3 L341.1 772.1 V761.6 L353.3 763.4 V813.1 L390.8 821.8 L401.3 824.4 V884.6 L286.2 857.6 L280.9 856.7Z"/>
<path class="p" d="M280.9 773.0 L294.0 775.2 L299.2 766.0 M294.0 775.2 V778.7 L280.9 775.9 M294.0 778.7 L320.2 784.7 M320.2 774.7 V786.0 M320.2 759.0 L329.8 761.6 L335.9 752.9 M329.8 761.6 V770.7 L331.9 770.3 M329.8 770.7 L320.2 768.6 M331.9 770.3 L353.3 775.2 M341.1 764.2 L330.6 762.0"/>
<ellipse class="p" cx="308.0" cy="779.9" rx="3.8" ry="2.4"/>
<path class="p" d="M280.9 773.0 V856.7"/>
<path class="p" d="M293.1 787.8 L296.6 786.9 L297.5 789.5 L311.5 792.2 L312.3 789.5 L342.0 795.6 L344.1 797.4 V817.4"/>
<path class="p" d="M295.8 789.5 V803.5 L297.5 804.9 L336.7 814.0 L337.6 795.6 M297.5 804.9 V790.4 M294.9 787.8 Q297.5 794.8 295.8 803.5"/>
<path class="w" d="M288.8 798.3 L292.3 797.4 V822.7 L288.8 823.5Z"/>
<path class="p" d="M340.2 795.1 V834.9 M342.0 795.8 V834.9"/>
<path class="p" d="M344.1 813.1 L385.6 823.0 M344.1 814.8 L385.6 824.8 M357.7 818.3 V847.1 L390.8 854.1"/>
<path class="w" d="M277.4 839.7 L281.8 836.2 L286.2 835.3 V857.1 L281.8 858.8 L277.4 857.1Z"/>
<path class="p" d="M277.4 839.7 L281.8 840.5 V858.8 M281.8 840.5 L286.2 835.3 M279.2 840.0 V857.4"/>
<path class="w" d="M337.6 854.5 L342.8 847.5 L349.8 849.2 V865.8 L343.7 872.8 L337.6 871.0Z"/>
<path class="p" d="M337.6 854.5 L343.7 855.7 V872.8 M343.7 855.7 L349.8 849.2 M339.9 855.0 V871.4 M346.3 852.7 V869.3"/>
<path class="p" d="M287.0 834.4 V858.0 M286.2 858.0 L337.6 869.3 M343.7 871.0 L401.3 885.0"/>
<path class="w" d="M288.8 810.0 L292.3 810.0 V823.1 L288.8 823.6Z"/>
<path class="p" d="M301.9 824.8 L327.2 830.1 V849.2 L301.9 843.1Z"/>
<path class="p" d="M304.5 827.4 V841.7 L326.3 847.0 M304.5 827.4 L327.2 832.3"/>
<path class="p" d="M356.8 820.5 V846.6 L390.8 853.6 M361.2 826.6 L389.9 832.7 V851.9 L361.2 845.8ZM363.8 829.5 V844.0 L388.7 849.8 M363.8 829.5 L389.9 835.3"/>
<ellipse class="p" cx="398.3" cy="848.0" rx="3.0" ry="3.3"/>
<path class="p" d="M396.0 850.1 L400.6 845.9"/>
<path class="w" d="M404.8 834.4 L408.3 834.4 L415.2 839.7 L404.8 886.7 L401.3 885.0Z"/>
<path class="p" d="M406.2 835.3 L402.7 862.3 L401.6 884.7 M409.1 838.8 L403.9 878.0"/>
<path class="w" d="M424.8 691.3 L550.4 719.8 V747.7 L549.5 749.4 V770.3 L543.4 779.9 L550.4 772.1 V853.2 L543.4 864.5 V901.2 L510.3 956.1 H506.8 V944.8 L481.5 941.3 V950.9 L389.1 928.2 V918.6 L404.8 889.0 L406.5 841.9 V763.4 L406.5 723.3 L416.1 700.9Z"/>
<path class="p" d="M399.2 814.8 A9.6 13.1 0 0 1 408.6 798.3 L417.8 799.7 M403.9 815.7 A6.1 9.6 0 0 1 410.3 803.5 L417.0 804.4 M408.3 815.7 A3.5 6.1 0 0 1 412.6 808.7"/>
<path class="p" d="M392.6 825.3 L417.8 830.5 M392.6 822.7 L417.0 827.6"/>
<path class="p" d="M424.8 691.3 L550.4 719.8 L544.3 728.5 L539.9 731.6 M424.0 702.3 L441.4 706.2 L443.1 711.0 L480.6 718.9 L539.9 731.6 M424.8 691.3 L424.0 702.3 M444.9 712.8 L539.1 733.7 M426.0 703.7 L441.4 707.2"/>
<path class="p" d="M550.4 719.8 V747.7 M544.3 728.5 V754.7 M539.9 732.0 V752.9"/>
<ellipse class="p" cx="451.9" cy="706.7" rx="4.4" ry="2.6"/>
<ellipse class="p" cx="474.5" cy="711.9" rx="4.4" ry="2.6"/>
<path class="t" d="M448.7 707.9 Q451.9 709.7 455.0 707.9 M471.4 713.1 Q474.5 714.9 477.7 713.1"/>
<path class="p" d="M416.1 700.9 L406.5 723.3 V763.4 L411.4 765.1 L426.0 740.7"/>
<path class="t" d="M411.4 765.1 V726.7 L420.5 707.6"/>
<ellipse class="p" cx="416.6" cy="722.4" rx="2.3" ry="4.2" transform="rotate(12 416.6 722.4)"/>
<ellipse class="p" cx="415.2" cy="736.3" rx="2.3" ry="4.2" transform="rotate(12 415.2 736.3)"/>
<ellipse class="p" cx="415.2" cy="750.3" rx="2.3" ry="4.2" transform="rotate(12 415.2 750.3)"/>
<path class="p" d="M427.4 745.1 L430.1 739.8 L432.7 742.8 M428.3 703.2 V780.8 M426.6 704.1 V745.1 M432.7 744.2 V779.9"/>
<path class="p" d="M445.8 718.9 L458.0 721.5 V733.7 L455.7 735.8 L445.8 733.7Z"/>
<path class="p" d="M447.5 719.8 V731.1 L455.7 733.4 V735.8 M447.5 731.1 L445.8 733.7"/>
<ellipse class="p" cx="458.8" cy="743.8" rx="2.4" ry="1.9" style="stroke-width:1.44"/>
<ellipse class="p" cx="456.7" cy="759.5" rx="2.4" ry="1.9" style="stroke-width:1.44"/>
<ellipse class="p" cx="474.2" cy="763.7" rx="2.4" ry="1.9" style="stroke-width:1.44"/>
<ellipse class="p" cx="458.8" cy="776.5" rx="2.4" ry="1.9" style="stroke-width:1.44"/>
<path class="p" d="M508.5 746.8 A5.2 4.4 0 0 1 519.0 746.8 V756.4 A5.2 4.4 0 0 1 508.5 756.4Z"/>
<path class="p" d="M511.2 750.3 H517.3 M509.4 752.9 Q513.8 754.7 518.5 752.9"/>
<path class="w" d="M534.7 757.3 L544.3 759.0 L549.5 749.4 V770.3 L542.6 778.2 L534.7 776.5Z"/>
<path class="p" d="M544.3 759.0 V777.3 M538.2 754.7 L539.9 752.0 L540.8 754.7"/>
<ellipse class="p" cx="546.0" cy="760.8" rx="1.2" ry="2.1"/>
<path class="p" d="M548.7 772.1 L543.4 779.9"/>
<path class="p" d="M431.8 779.9 L477.2 789.5 L480.6 792.2 L481.5 794.8 V812.2 M429.2 784.3 L475.4 793.9 L478.9 797.4 V814.0 M429.2 779.9 V784.3 M432.7 779.9 L429.2 779.9"/>
<path class="p" d="M423.1 768.6 L419.6 789.5 V830.0 M426.6 769.0 L422.6 789.5 V830.0 M423.1 768.6 H426.6 M427.4 780.8 V830.0"/>
<path class="t" d="M441.4 789.5 V830.0 M447.5 790.9 V830.0"/>
<path class="p" d="M506.8 763.4 L533.0 769.5 L530.3 772.1 L507.7 766.9 L481.5 812.2 L485.0 817.4 L487.6 814.8 L492.0 813.1 L493.7 817.4 L497.2 820.1 L500.7 813.1 L519.9 817.4 L521.6 810.5 L525.1 813.1 L539.9 787.8 V782.6"/>
<path class="p" d="M506.8 763.4 L497.2 782.6 V787.8 L500.7 784.3 M507.7 766.9 L505.6 766.5 M530.3 772.1 L524.2 784.3 M532.1 770.3 L526.0 784.3"/>
<path class="p" d="M524.2 785.2 A7.8 6.1 0 1 0 525.1 794.8 L532.1 798.3 L535.6 793.0"/>
<path class="p" d="M514.7 798.3 L530.3 801.7 L535.6 794.8"/>
<ellipse class="p" cx="510.3" cy="813.1" rx="5.2" ry="4.2"/>
<ellipse class="p" cx="510.3" cy="813.1" rx="3.1" ry="2.4"/>
<path class="p" d="M507.7 811.3 L512.9 814.8 M512.9 811.3 L507.7 814.8"/>
<ellipse class="p" cx="534.2" cy="797.4" rx="1.7" ry="2.8"/>
<path class="p" d="M539.9 789.5 V897.7 M542.6 787.8 V894.2 M550.4 772.1 V853.2"/>
<path class="w" d="M389.1 919.0 L481.5 941.7 V951.3 L389.1 928.6Z"/>
<path class="p" d="M389.1 919.0 L404.8 889.4"/>
<path class="p" d="M485.0 940.8 A11.3 7.8 0 0 1 506.8 944.3 V956.5 H510.3 L543.4 900.7 V864.1 L550.4 853.6 V810.0"/>
<path class="p" d="M481.5 941.7 L485.0 940.8 V947.8 L481.5 951.3 M510.3 947.8 L539.9 897.2 V810.0 M510.3 947.8 V956.5 M524.2 923.4 V932.1"/>
<path class="t" d="M481.9 942.6 V950.4 M482.9 942.2 V949.5 M484.0 941.7 V948.7"/>
<path class="p" d="M410.0 923.7 Q450.1 942.6 486.7 918.1 Q502.4 904.2 492.8 885.0"/>
<path class="p" d="M402.2 897.2 Q399.5 912.9 410.0 923.7"/>
<ellipse class="p" cx="448.7" cy="902.1" rx="11.7" ry="7.8"/>
<path class="t" d="M438.8 905.1 Q448.7 912.0 458.8 905.1"/>
<ellipse class="p" cx="416.1" cy="894.6" rx="3.5" ry="2.1"/>
<ellipse class="p" cx="481.5" cy="909.9" rx="3.8" ry="2.4"/>
<ellipse class="p" cx="481.5" cy="933.3" rx="3.1" ry="2.1"/>
<path class="t" d="M412.6 894.6 H419.6 M478.0 909.9 H485.0"/>
<ellipse class="p" cx="518.1" cy="906.8" rx="8.7" ry="5.8"/>
<path class="t" d="M512.0 910.3 Q518.1 913.8 524.2 910.3"/>
<path class="w" d="M441.4 841.0 Q465.8 837.9 485.0 851.9 V881.5 L441.4 873.7Z"/>
<path class="p" d="M420.5 810.0 V869.3 M424.0 810.0 V870.2 M427.4 834.4 V871.0 M435.3 836.2 V870.2 M442.3 837.9 V841.4 M424.8 833.5 L442.3 837.9 M406.5 879.8 Q424.0 869.3 441.4 873.7"/>
<path class="p" d="M498.1 824.0 V897.2" style="stroke-width:3.12"/>
<path class="p" d="M482.4 818.7 V850.1 M485.0 820.5 V851.0 M489.4 850.1 V884.1 M496.3 851.9 V885.9 M485.0 845.8 L496.3 847.5 M500.7 823.1 V897.2 M499.8 897.2 L507.7 886.7 L539.9 893.7"/>
<path class="p" d="M506.8 850.1 L512.0 841.4 L522.5 844.0 V855.3 L506.8 851.9ZM506.8 851.9 V886.7 M512.0 841.7 V851.0 M525.1 853.6 L530.3 844.9 L539.9 847.5 M525.1 853.6 L539.9 856.7 M525.1 853.6 V826.6 M512.0 841.4 V825.7 M522.5 844.0 V824.0 M530.3 844.9 V820.5"/>
<path class="p" d="M523.4 878.0 L538.2 879.8 V893.7 L523.4 891.1Z"/>
<path class="p" d="M482.4 818.7 L485.0 823.1 L492.0 817.0 L493.7 824.8 L500.7 823.1 M483.3 819.6 V824.0 M492.8 818.7 V825.7"/>
<path class="w" d="M553.5 917.3 L560.0 916.4 Q562.6 919.9 560.9 924.6 L553.9 925.1 Q551.8 921.6 553.5 917.3Z" style="stroke-width:1.56"/>
<path class="p" d="M555.6 916.9 V924.8 M557.4 916.7 V924.8 M559.1 916.6 V924.6"/>
<path class="w" d="M553.5 800.3 L560.0 799.5 Q562.6 803.0 560.9 807.7 L553.9 808.2 Q551.8 804.7 553.5 800.3Z" style="stroke-width:1.56"/>
<path class="p" d="M555.6 800.0 V807.8 M557.4 799.8 V807.8 M559.1 799.7 V807.7"/>
<path class="da" d="M534.7 915.2 L552.2 919.9"/>
<path class="da" d="M535.6 797.4 L552.2 802.6"/>
<ellipse class="p" cx="533.5" cy="914.7" rx="1.7" ry="3.1" style="stroke-width:1.56"/>
<path class="w" d="M414.0 943.4 V952.2 H418.2 V943.4 A2.1 1.0 0 0 0 414.0 943.4Z"/>
<ellipse class="w" cx="416.1" cy="953.0" rx="6.5" ry="3.8"/>
<ellipse class="p" cx="416.1" cy="952.3" rx="4.2" ry="2.1"/>
<path class="p" d="M414.0 947.8 V952.2 M418.2 947.8 V952.2"/>
<path class="w" d="M479.4 957.4 V966.1 H483.6 V957.4 A2.1 1.0 0 0 0 479.4 957.4Z"/>
<ellipse class="w" cx="481.5" cy="967.0" rx="6.5" ry="3.8"/>
<ellipse class="p" cx="481.5" cy="966.3" rx="4.2" ry="2.1"/>
<path class="p" d="M479.4 961.7 V966.1 M483.6 961.7 V966.1"/>
</g>
<g id="sol15">
<path class="w" d="M274.5 641.5 L275.3 667.5 Q276.2 672.4 281.0 673.2 L313.6 679.7 Q323.3 680.5 326.6 672.4 L339.6 650.4 L338.8 636.6 L326.6 641.5 L274.5 635.0Z"/>
<path class="p" d="M275.3 646.3 Q276.2 649.9 281.0 650.7 L316.8 657.7 Q323.3 658.1 325.8 653.7 L337.2 638.2 M279.4 650.4 V672.4 M312.0 656.9 V679.2 M325.0 655.3 V674.0"/>
<path class="p" d="M277.0 638.2 L283.5 639.0 M274.5 641.5 L277.0 638.2"/>
<path class="w" d="M283.5 596.7 L295.7 579.6 L326.6 586.9 L331.5 592.6 V630.1 L318.5 645.5 L283.5 638.2Z"/>
<path class="p" d="M283.5 596.7 L320.1 603.2 L326.6 587.8 M320.1 603.2 L318.5 645.5 M285.1 599.1 L319.3 605.7"/>
<path class="p" d="M320.9 605.7 L330.7 593.5" style="stroke-width:0.9"/>
<path class="p" d="M320.9 608.1 L330.7 595.9" style="stroke-width:0.9"/>
<path class="p" d="M320.9 610.5 L330.7 598.3" style="stroke-width:0.9"/>
<path class="p" d="M320.9 613.0 L330.7 600.8" style="stroke-width:0.9"/>
<path class="p" d="M320.9 615.4 L330.7 603.2" style="stroke-width:0.9"/>
<path class="p" d="M320.9 617.9 L330.7 605.7" style="stroke-width:0.9"/>
<path class="p" d="M320.9 620.3 L330.7 608.1" style="stroke-width:0.9"/>
<path class="p" d="M320.9 622.7 L330.7 610.5" style="stroke-width:0.9"/>
<path class="p" d="M320.9 625.2 L330.7 613.0" style="stroke-width:0.9"/>
<path class="p" d="M320.9 627.6 L330.7 615.4" style="stroke-width:0.9"/>
<path class="p" d="M320.9 630.1 L330.7 617.9" style="stroke-width:0.9"/>
<path class="p" d="M320.9 632.5 L330.7 620.3" style="stroke-width:0.9"/>
<path class="p" d="M320.9 635.0 L330.7 622.7" style="stroke-width:0.9"/>
<path class="p" d="M320.9 637.4 L330.7 625.2" style="stroke-width:0.9"/>
<path class="p" d="M320.9 639.8 L330.7 627.6" style="stroke-width:0.9"/>
<path class="p" d="M320.9 642.3 L330.7 630.1" style="stroke-width:0.9"/>
<ellipse class="p" cx="290.8" cy="612.2" rx="2.0" ry="2.0" style="stroke-width:1.56"/>
<ellipse class="p" cx="309.5" cy="638.2" rx="2.0" ry="2.0" style="stroke-width:1.56"/>
<text transform="translate(306.4 642.3) rotate(-83)" font-family="Liberation Sans, sans-serif" font-weight="bold" font-size="6.3px" fill="#000" stroke="#000" stroke-width="0.8">TDS-08B-487</text>
<path class="k" d="M300.6 646.3 H302.5 V648.3 H300.6ZM305.1 646.3 H307.1 V648.3 H305.1ZM301.4 650.4 H303.0 M295.7 651.2 H297.0"/>
<path class="p" d="M285.1 639.0 L289.2 641.5 L291.6 647.2 M315.2 645.5 L317.7 651.2 M279.4 612.2 L276.2 618.7 V628.4 M283.5 608.9 L277.8 617.1"/>
<path class="w" d="M299.8 578.8 V590.2 A8.6 3.6 0 0 0 316.8 590.2 V579.6Z"/>
<path class="p" d="M299.8 587.8 A8.6 3.3 0 0 0 316.8 587.8 M301.4 591.0 A7.3 2.6 0 0 0 315.5 591.0"/>
<path class="w" d="M272.1 599.1 L275.3 597.5 V628.4 L272.1 630.1Z"/>
<path class="w" d="M338.0 599.1 L340.4 597.5 V618.7 L338.0 620.3Z"/>
<path class="w" d="M325.8 608.9 L327.4 607.3 V623.6 L325.8 625.2Z"/>
<path class="w" d="M274.5 569.0 L284.3 552.8 L335.9 565.3 L338.8 569.9 V637.4 L336.4 638.2 V571.5 L326.6 583.7 V641.5 L324.2 640.6 V583.7 L285.1 574.7 V586.1 L282.7 588.6 V574.4 L277.0 573.1 V637.4 L274.5 635.0Z"/>
<path class="p" d="M274.5 569.0 L326.6 581.2 L335.9 565.3 M326.6 581.2 V583.7 M274.5 571.5 L277.0 573.1 M326.6 583.7 L274.5 571.5 M286.7 574.7 V584.5 L292.4 576.4"/>
<path class="p" d="M316.8 551.1 L325.0 552.0 V560.1 L319.3 559.3"/>
<path class="p" d="M300.6 547.1 L299.8 551.1"/>
<ellipse class="w" cx="307.4" cy="557.7" rx="9.4" ry="5.9" style="stroke-width:1.44"/>
<ellipse class="w" cx="307.1" cy="555.5" rx="8.8" ry="5.5" style="stroke-width:1.92"/>
<ellipse class="p" cx="307.1" cy="553.9" rx="5.9" ry="3.9" style="stroke-width:1.56"/>
<path class="w" d="M338.0 636.6 L343.7 635.8 V646.3 L339.6 647.2Z"/>
<path class="p" d="M340.9 636.3 V646.8 M342.6 635.9 V646.5" style="stroke-width:1.44"/>
<path class="w" d="M305.1 519.4 V527.5 A3.9 1.5 0 0 0 312.8 527.5 V519.4Z"/>
<path class="w" d="M300.2 512.6 V517.0 Q309.5 525.6 318.8 517.0 V512.6Z"/>
<ellipse class="w" cx="309.5" cy="512.1" rx="9.4" ry="6.2"/>
<path class="p" d="M305.4 510.0 L313.6 513.7 M312.8 509.3 L306.7 514.5 M306.7 508.8 L312.0 511.3 M306.3 512.6 L311.1 514.2" style="stroke-width:1.44"/>
<path class="da" d="M307.9 532.4 V545.8 M307.9 563.3 V576.4 M307.9 594.3 V695.0 M341.2 648.0 V695.0"/>
</g>
<g id="p16">
<path class="w" d="M189.2 1064.0 L196.2 1052.3 L239.6 1061.6 L259.7 1064.7 V1079.5 L247.3 1099.6 V1124.4 L244.2 1130.6 L236.5 1133.7 L229.5 1136.0 L219.4 1134.5 L214.8 1130.6 L213.2 1127.5 L193.1 1122.9 L186.9 1119.8 L186.1 1115.1 L189.2 1108.9Z"/>
<path class="p" d="M189.2 1064.0 Q189.7 1062.1 191.5 1062.4 L229.5 1069.8 Q231.8 1070.5 231.8 1072.5 V1118.2 L229.5 1122.9 M231.8 1070.9 L238.0 1062.4 M236.5 1065.5 V1110.5 L231.8 1118.2 M239.6 1070.2 L244.2 1070.9 V1096.5 L239.6 1101.2ZM241.9 1070.9 V1098.1 M238.0 1112.0 L244.2 1108.9 V1122.9 L238.0 1130.6 M247.3 1099.6 L244.2 1101.9 M189.2 1064.0 V1108.9 M186.9 1115.9 L213.2 1122.1 L214.8 1127.5 M213.2 1122.1 L225.6 1112.0 L231.8 1115.1 M229.5 1122.9 V1136.0 M225.6 1124.4 L229.5 1122.9"/>
<path class="w" d="M259.7 1079.5 Q261.3 1074.8 267.5 1075.6 Q275.2 1077.1 274.5 1083.3 Q272.9 1091.1 264.4 1091.1 Q260.5 1090.6 256.6 1088.0Z"/>
<ellipse class="p" cx="264.7" cy="1083.3" rx="3.9" ry="3.1"/>
<path class="p" d="M262.8 1081.8 L266.7 1084.9"/>
<path class="w" d="M185.6 1083.3 L197.7 1070.9 L219.4 1075.6 Q227.9 1085.7 226.4 1098.1 Q224.1 1107.4 216.3 1112.0 L207.0 1118.2 L185.6 1112.0 Q178.3 1101.2 185.6 1083.3Z" style="stroke-width:1.44"/>
<path class="p" d="M191.5 1075.6 L187.2 1086.4" style="stroke-width:0.95"/>
<path class="p" d="M195.4 1073.3 L191.0 1084.9" style="stroke-width:0.95"/>
<path class="p" d="M200.0 1072.9 L195.7 1085.3" style="stroke-width:0.95"/>
<path class="p" d="M204.7 1073.6 L200.3 1086.6" style="stroke-width:0.95"/>
<path class="p" d="M209.3 1074.8 L205.0 1088.1" style="stroke-width:0.95"/>
<path class="p" d="M214.0 1076.7 L209.3 1090.6" style="stroke-width:0.95"/>
<path class="p" d="M218.6 1079.5 L213.7 1093.7" style="stroke-width:0.95"/>
<path class="p" d="M222.5 1083.3 L217.1 1097.8" style="stroke-width:0.95"/>
<path class="p" d="M225.3 1088.8 L219.7 1102.4" style="stroke-width:0.95"/>
<path class="p" d="M226.2 1095.0 L221.0 1106.6" style="stroke-width:0.95"/>
<path class="p" d="M224.8 1101.2 L219.4 1110.8" style="stroke-width:0.95"/>
<ellipse class="w" cx="198.5" cy="1103.5" rx="18.3" ry="15.2" transform="rotate(18 198.5 1103.5)" style="stroke-width:1.56"/>
<ellipse class="p" cx="198.8" cy="1103.5" rx="16.4" ry="13.3" transform="rotate(18 198.8 1103.5)"/>
<ellipse class="p" cx="199.6" cy="1103.2" rx="14.0" ry="10.9" transform="rotate(18 199.6 1103.2)" style="stroke-width:1.56"/>
<ellipse class="p" cx="200.5" cy="1102.7" rx="11.5" ry="8.5" transform="rotate(18 200.5 1102.7)"/>
<path class="w" d="M220.2 977.7 V942.1 Q221.0 938.2 225.6 937.4 L253.5 944.4 Q256.6 945.9 256.6 949.0 V997.9 L220.2 990.1Z"/>
<path class="t" d="M222.5 938.2 L221.7 941.3 V976.2 M254.3 944.8 L255.4 948.3"/>
<ellipse class="p" cx="237.7" cy="953.7" rx="5.0" ry="3.7"/>
<path class="p" d="M234.9 952.6 L240.3 955.2"/>
<path class="w" d="M260.5 984.7 L222.5 973.1 L229.5 994.0 L259.7 1010.3Z"/>
<ellipse class="w" cx="262.5" cy="997.6" rx="5.6" ry="12.7"/>
<path class="k" d="M222.5 973.4 L253.5 979.6 L251.7 997.9 L230.0 993.5Z"/>
<path class="p" d="M225.6 974.9 L229.0 993.2" style="stroke:#bbb;stroke-width:0.5"/>
<path class="p" d="M227.8 975.4 L231.2 993.5" style="stroke:#bbb;stroke-width:0.5"/>
<path class="p" d="M230.0 975.9 L233.4 993.8" style="stroke:#bbb;stroke-width:0.5"/>
<path class="p" d="M232.1 976.3 L235.5 994.1" style="stroke:#bbb;stroke-width:0.5"/>
<path class="p" d="M234.3 976.8 L237.7 994.5" style="stroke:#bbb;stroke-width:0.5"/>
<path class="p" d="M236.5 977.2 L239.9 994.8" style="stroke:#bbb;stroke-width:0.5"/>
<path class="p" d="M238.6 977.7 L242.1 995.1" style="stroke:#bbb;stroke-width:0.5"/>
<path class="p" d="M240.8 978.2 L244.2 995.4" style="stroke:#bbb;stroke-width:0.5"/>
<path class="p" d="M243.0 978.6 L246.4 995.7" style="stroke:#bbb;stroke-width:0.5"/>
<path class="p" d="M245.2 979.1 L248.6 996.0" style="stroke:#bbb;stroke-width:0.5"/>
<path class="p" d="M247.3 979.6 L250.7 996.3" style="stroke:#bbb;stroke-width:0.5"/>
<path class="p" d="M249.5 980.0 L252.9 996.6" style="stroke:#bbb;stroke-width:0.5"/>
<path class="p" d="M251.7 980.5 L255.1 996.9" style="stroke:#bbb;stroke-width:0.5"/>
<path class="w" d="M197.7 987.0 L198.5 958.3 L201.6 956.0 L214.8 958.3 L229.5 994.0Z"/>
<path class="p" d="M206.2 956.8 L221.0 973.4"/>
<path class="w" d="M201.6 950.6 L214.8 953.7 V958.3 L201.6 956.0Z"/>
<path class="w" d="M160.5 975.4 L175.2 948.3 L178.3 947.5 L182.2 948.3 V962.2 L176.0 976.2Z"/>
<path class="p" d="M165.2 976.5 L178.3 951.4 V947.8"/>
<ellipse class="w" cx="177.9" cy="970.3" rx="3.4" ry="6.2" transform="rotate(12 177.9 970.3)"/>
<ellipse class="w" cx="183.1" cy="971.8" rx="3.1" ry="6.2" transform="rotate(12 183.1 971.8)"/>
<ellipse class="w" cx="187.6" cy="973.4" rx="2.2" ry="5.3" transform="rotate(12 187.6 973.4)"/>
<path class="w" d="M186.1 976.2 L190.0 961.4 L195.4 945.2 L201.6 946.7 L198.5 958.3 L197.7 984.7Z"/>
<path class="p" d="M190.0 961.4 L197.7 960.7 L201.6 946.7 M191.5 962.2 L188.1 976.9"/>
<path class="p" d="M191.5 978.5 L200.0 980.0 V977.7 L196.2 976.9"/>
<path class="w" d="M160.5 975.4 L197.7 984.7 V987.0 L229.5 994.0 L230.3 997.1 L256.6 1002.5 L260.5 1014.1 V1033.5 L256.6 1024.2 L253.5 1029.7 L225.6 1024.2 V1046.7 L254.3 1052.9 L259.7 1047.5 V1037.4 L287.6 1043.6 L290.0 1045.2 V1049.0 L286.9 1053.7 L260.5 1048.3 L259.7 1058.3 L254.3 1064.5 L182.2 1047.5 V1036.6 L184.5 1032.8 L164.4 1025.8 L160.5 1022.7Z"/>
<path class="p" d="M197.7 987.0 V1035.1 M184.5 1032.8 L197.7 1035.1 M164.4 1025.8 L195.4 1032.0 M256.6 1002.5 V1024.2 M254.3 1052.9 V1064.5 M259.7 1037.4 V1047.5 M256.6 1053.7 L260.5 1049.0 M260.5 1014.1 L257.4 1018.0 V1024.2 M286.9 1044.4 V1053.7 M290.0 1045.2 L286.9 1044.4 L259.7 1038.2"/>
<path class="t" d="M161.7 976.2 V1023.0"/>
<path class="p" d="M176.0 993.2 L196.2 997.1 V1005.6 L190.0 1004.8 V1009.5 L176.0 1006.4ZM177.9 995.1 V1004.8 M177.9 995.1 L196.2 999.1 M182.2 996.3 Q181.4 1001.0 186.9 1002.5 M186.9 997.9 L190.0 998.6 L188.4 1004.1"/>
<path class="p" d="M190.0 1009.5 V1014.1 L193.1 1014.9 V1018.0 L197.7 1018.8 M194.6 1019.9 A3.1 3.4 0 0 0 197.7 1026.1"/>
<path class="p" d="M203.9 1026.6 V1033.5 M203.9 1026.6 L207.8 1027.3 V1034.3 L203.9 1033.5 M207.8 1030.4 L220.2 1032.8 M221.0 1030.7 V1037.4 L207.8 1034.3 M220.2 1032.8 L221.0 1030.7" style="stroke-width:1.44"/>
<path class="p" d="M229.5 1026.6 L241.1 1028.9 Q245.5 1032.0 241.1 1035.9 L229.5 1033.5ZM231.5 1028.6 L239.6 1030.4 Q241.9 1032.3 239.6 1034.3 L231.5 1032.8"/>
<path class="p" d="M225.6 1024.2 L228.7 1025.8 V1042.8 L253.5 1048.3 M225.6 1046.7 L228.7 1042.8"/>
<path class="w" d="M166.4 1085.5 L173.4 1072.3 Q171.7 1069.1 167.8 1069.5 L160.8 1082.7Z"/>
<ellipse class="w" cx="164.3" cy="1082.8" rx="9.0" ry="7.2" transform="rotate(28 164.3 1082.8)"/>
<ellipse class="w" cx="163.6" cy="1084.1" rx="9.0" ry="7.2" transform="rotate(28 163.6 1084.1)"/>
<ellipse class="t" cx="163.6" cy="1084.1" rx="6.5" ry="4.9" transform="rotate(28 163.6 1084.1)"/>
<path class="p" d="M159.9 1082.2 L167.3 1086.0 M165.9 1081.2 L161.3 1087.1 M161.0 1083.8 L166.2 1084.4 M163.6 1081.5 L163.6 1086.7" style="stroke-width:1.56"/>
<path class="w" d="M218.3 1173.1 L223.4 1163.3 Q221.6 1160.1 217.9 1160.5 L212.8 1170.3Z"/>
<ellipse class="w" cx="216.3" cy="1170.4" rx="9.0" ry="7.2" transform="rotate(28 216.3 1170.4)"/>
<ellipse class="w" cx="215.5" cy="1171.7" rx="9.0" ry="7.2" transform="rotate(28 215.5 1171.7)"/>
<ellipse class="t" cx="215.5" cy="1171.7" rx="6.5" ry="4.9" transform="rotate(28 215.5 1171.7)"/>
<path class="p" d="M211.8 1169.8 L219.3 1173.6 M217.9 1168.8 L213.2 1174.7 M212.9 1171.4 L218.2 1172.0 M215.5 1169.1 L215.5 1174.3" style="stroke-width:1.56"/>
</g>
<g id="axes">
<path class="da" d="M415.8 558V894M448 566V906M481.5 558V932M510.6 410V494M510.6 580V813"/>
<path class="da" d="M452 629V644M452 660V670M452 682V703M475 634V649M475 667V675M475 680V708"/>
<path class="da" d="M308 676V776M341.2 648V790"/>
<path class="da" d="M209 678L627.4 776.4M181.7 686.7L625.9 789.6"/>
<path class="da" d="M489 678.5L632.3 712.5"/>
<path class="da" d="M371.5 719L172 1068"/>
<path class="da" d="M458.8 743.8L312 1002M458.8 776.5L312 1035"/>
<path class="da" d="M335 963.5L222 1160"/>
<path class="da" d="M541 815L568 823"/>
<path class="da" d="M416.1 937V946M481.5 954V960"/>
</g>
<g id="p14">
<path class="p" d="M333.7 942.1 L339.0 942.8 M333.7 947.3 L337.8 947.9" style="stroke-width:2.16"/>
<path class="w" d="M341.3 934.9 Q341.9 927.3 350.0 926.7 Q361.6 927.9 362.8 934.9 V943.0 L358.1 946.5 L341.3 941.9Z" style="stroke-width:1.44"/>
<ellipse class="p" cx="350.9" cy="935.5" rx="8.7" ry="5.6" transform="rotate(8 350.9 935.5)" style="stroke-width:1.56"/>
<ellipse class="p" cx="350.2" cy="936.3" rx="6.0" ry="3.5" transform="rotate(8 350.2 936.3)" style="stroke-width:1.56"/>
<path class="p" d="M346.5 935.5 L354.1 937.4 M350.2 934.3 V938.6"/>
<path class="w" d="M333.1 957.0 L340.1 943.0 L350.0 945.3 L351.2 948.8 L358.1 950.0 L361.6 943.6 L375.6 946.5 L377.3 948.8 V965.1 L374.4 969.8 L368.6 974.4 L366.9 981.4 L364.5 982.6 L333.1 975.6Z" style="stroke-width:1.44"/>
<path class="p" d="M333.1 957.0 L351.7 961.0 L355.8 954.1 L368.6 958.1 L366.9 981.4 M351.7 961.0 V981.4 M355.8 954.1 L358.1 950.0 M368.6 958.1 L375.6 947.1 M372.1 954.7 V969.8 M368.6 974.4 V958.1 M334.9 957.6 L340.9 944.8 M350.0 945.3 L345.9 952.9 L351.7 954.7 M360.5 945.9 L374.4 948.8 L376.2 949.4"/>
<path class="k" d="M350.0 964.0 L354.7 964.5 V976.7 L350.0 976.2ZM357.6 965.1 L362.2 965.7 L361.6 979.1 L357.6 978.5ZM354.7 969.8 L357.6 970.3 V972.7 L354.7 972.1Z"/>
<path class="p" d="M351.2 966.3 H353.7 M351.2 969.2 H353.7 M351.2 972.7 H353.7 M358.5 968.0 H361.0 M358.5 971.5 H361.0 M358.5 975.6 H361.0" style="stroke:#fff;stroke-width:0.5"/>
<path class="k" d="M372.1 955.8 L375.6 951.2 V965.1 L372.1 969.8"/>
<ellipse class="w" cx="319.3" cy="988.3" rx="7.0" ry="5.7" transform="rotate(-25 319.3 988.3)" style="stroke-width:1.44"/>
<ellipse class="p" cx="319.3" cy="988.7" rx="3.3" ry="2.7" transform="rotate(-25 319.3 988.7)"/>
<ellipse class="w" cx="319.3" cy="1020.7" rx="7.0" ry="5.7" transform="rotate(-25 319.3 1020.7)" style="stroke-width:1.44"/>
<ellipse class="p" cx="319.3" cy="1021.0" rx="3.3" ry="2.7" transform="rotate(-25 319.3 1021.0)"/>
<path class="w" d="M311.3 1007.3 L317.3 997.3 Q316.7 995.0 314.7 995.3 L308.7 1005.3Z"/>
<ellipse class="w" cx="310.6" cy="1005.4" rx="6.3" ry="5.1" transform="rotate(31 310.6 1005.4)"/>
<ellipse class="w" cx="310.0" cy="1006.3" rx="6.3" ry="5.1" transform="rotate(31 310.0 1006.3)"/>
<ellipse class="t" cx="310.0" cy="1006.3" rx="4.6" ry="3.5" transform="rotate(31 310.0 1006.3)"/>
<path class="p" d="M307.3 1005.0 L312.7 1007.7 M311.7 1004.3 L308.3 1008.3 M308.0 1006.0 L312.0 1006.7 M310.0 1004.3 L310.0 1008.3" style="stroke-width:1.56"/>
<path class="w" d="M311.3 1040.0 L317.3 1030.0 Q316.7 1027.7 314.7 1028.0 L308.7 1038.0Z"/>
<ellipse class="w" cx="310.6" cy="1038.1" rx="6.3" ry="5.1" transform="rotate(31 310.6 1038.1)"/>
<ellipse class="w" cx="310.0" cy="1039.0" rx="6.3" ry="5.1" transform="rotate(31 310.0 1039.0)"/>
<ellipse class="t" cx="310.0" cy="1039.0" rx="4.6" ry="3.5" transform="rotate(31 310.0 1039.0)"/>
<path class="p" d="M307.3 1037.7 L312.7 1040.3 M311.7 1037.0 L308.3 1041.0 M308.0 1038.7 L312.0 1039.3 M310.0 1037.0 L310.0 1041.0" style="stroke-width:1.56"/>
</g>
<g id="mid">
<path class="w" d="M504.2 502.3 V573.0 A7.3 4.4 0 0 0 519.1 573.0 V502.3Z"/>
<path class="p" d="M505.5 507.6 V572.1 M517.8 507.6 V572.1 M506.0 572.1 Q510.3 570.3 514.7 573.0 Q516.5 575.6 512.1 578.2"/>
<ellipse class="w" cx="511.6" cy="499.7" rx="7.2" ry="4.4" style="stroke-width:1.56"/>
<ellipse class="w" cx="511.6" cy="504.9" rx="7.0" ry="3.8" style="stroke-width:1.56"/>
<path class="w" d="M427.1 659.0 L489.1 674.5 L488.4 679.1 L482.2 685.3 L420.9 670.6 L421.2 667.2Z"/>
<path class="p" d="M421.2 667.2 L482.9 681.8 L489.1 674.5 M482.9 681.8 L482.2 685.3"/>
<ellipse class="p" cx="451.9" cy="670.6" rx="4.3" ry="2.5"/>
<ellipse class="p" cx="474.9" cy="675.7" rx="4.3" ry="2.5"/>
<path class="k" d="M454.6 674.5 L480.3 681.2 L479.8 682.7 L454.3 676.2Z"/>
<path class="w" d="M449.6 621.8 V629.2 A2.8 0.9 0 0 0 455.2 629.2 V621.8Z"/>
<ellipse class="w" cx="452.4" cy="615.6" rx="9.5" ry="6.8"/>
<path class="w" d="M472.4 626.4 V633.9 A2.8 0.9 0 0 0 478.0 633.9 V626.4Z"/>
<ellipse class="w" cx="475.2" cy="620.2" rx="9.5" ry="6.8"/>
<path class="p" d="M449.3 610.9 V618.7 M449.3 610.9 Q457.4 610.2 457.7 614.8 Q457.7 618.7 451.9 618.7"/>
<ellipse class="p" cx="475.2" cy="618.7" rx="5.4" ry="3.1"/>
<path class="w" d="M445.7 648.1 L448.5 660.5 A3.4 1.2 0 0 0 455.3 660.5 L458.1 648.1Z"/>
<path class="p" d="M450.7 655.9 V661.3" style="stroke-width:2.16"/>
<ellipse class="w" cx="451.9" cy="648.1" rx="6.5" ry="3.9" style="stroke-width:1.8"/>
<ellipse class="p" cx="451.9" cy="648.1" rx="3.7" ry="2.0"/>
<ellipse class="p" cx="451.9" cy="648.1" rx="1.4" ry="0.8"/>
<path class="w" d="M468.7 652.8 L471.5 665.2 A3.4 1.2 0 0 0 478.3 665.2 L481.1 652.8Z"/>
<path class="p" d="M473.6 660.5 V666.0" style="stroke-width:2.16"/>
<ellipse class="w" cx="474.9" cy="652.8" rx="6.5" ry="3.9" style="stroke-width:1.8"/>
<ellipse class="p" cx="474.9" cy="652.8" rx="3.7" ry="2.0"/>
<ellipse class="p" cx="474.9" cy="652.8" rx="1.4" ry="0.8"/>
<path class="w" d="M408.5 686.9 L414.7 679.1 L423.3 681.5 V686.1 L420.2 693.1 L408.5 691.6Z"/>
<path class="p" d="M408.5 686.9 L419.4 688.8 L423.3 681.5 M419.4 688.8 L420.2 693.1"/>
<path class="k" d="M420.9 686.9 L423.3 687.7 L421.7 690.8Z"/>
</g>
<g id="lscrews">
<path class="w" d="M166.0 678.3 L180.0 681.7 Q182.7 686.0 180.0 689.3 L166.0 686.0Z" style="stroke-width:1.32"/>
<ellipse class="w" cx="162.7" cy="681.7" rx="3.7" ry="8.7" transform="rotate(10 162.7 681.7)" style="stroke-width:1.44"/>
<ellipse class="w" cx="160.7" cy="681.3" rx="3.7" ry="8.7" transform="rotate(10 160.7 681.3)" style="stroke-width:1.44"/>
<path class="w" d="M194.3 670.0 L208.3 673.3 Q211.0 677.7 208.3 681.0 L194.3 677.7Z" style="stroke-width:1.32"/>
<ellipse class="w" cx="191.0" cy="673.3" rx="3.7" ry="8.7" transform="rotate(10 191.0 673.3)" style="stroke-width:1.44"/>
<ellipse class="w" cx="189.0" cy="673.0" rx="3.7" ry="8.7" transform="rotate(10 189.0 673.0)" style="stroke-width:1.44"/>
</g>
<g id="callouts">
<line class="ld" x1="411.6" y1="154.3" x2="458.3" y2="190.0"/>
<line class="ld" x1="566.6" y1="178.1" x2="520.7" y2="236.7"/>
<line class="ld" x1="577.3" y1="311.8" x2="532.3" y2="323.3"/>
<line class="ld" x1="613.8" y1="420.8" x2="576.3" y2="381.7"/>
<line class="ld" x1="605.9" y1="474.4" x2="565.7" y2="435.0"/>
<line class="ld" x1="535.5" y1="465.3" x2="468.0" y2="439.3"/>
<line class="ld" x1="535.0" y1="473.5" x2="492.3" y2="484.0"/>
<line class="ld" x1="305.2" y1="408.2" x2="351.4" y2="444.1"/>
<line class="ld" x1="566.2" y1="541.1" x2="515.7" y2="534.0"/>
<line class="ld" x1="702.7" y1="612.2" x2="649.0" y2="605.0"/>
<line class="ld" x1="698.4" y1="654.0" x2="649.0" y2="646.7"/>
<line class="ld" x1="241.6" y1="527.6" x2="280.0" y2="556.7"/>
<line class="ld" x1="129.1" y1="918.2" x2="171.7" y2="951.7"/>
<line class="ld" x1="414.7" y1="1017.5" x2="372.3" y2="974.0"/>
<line class="ld" x1="560.3" y1="990.0" x2="517.3" y2="947.3"/>
<line class="ld" x1="609.6" y1="903.6" x2="581.3" y2="832.3"/>
<line class="ld" x1="662.0" y1="900.8" x2="644.0" y2="837.3"/>
<line class="ld" x1="679.0" y1="719.5" x2="639.0" y2="764.0"/>
<line class="ld" x1="808.9" y1="694.3" x2="734.7" y2="744.3"/>
<line class="ld" x1="782.0" y1="281.4" x2="764.7" y2="240.0"/>
<line class="ld" x1="777.9" y1="304.0" x2="713.0" y2="373.3"/>
<line class="ld" x1="882.5" y1="97.0" x2="870.7" y2="133.3"/>
<line class="ld" x1="896.5" y1="130.6" x2="885.2" y2="173.7"/>
<line class="ld" x1="858.5" y1="167.0" x2="881.8" y2="194.2"/>
<line class="ld" x1="854.7" y1="205.4" x2="861.3" y2="224.1"/>
<line class="ld" x1="928.3" y1="170.4" x2="923.7" y2="183.1"/>
<line class="ld" x1="837.9" y1="294.1" x2="845.0" y2="273.7"/>
<line class="ld" x1="892.4" y1="300.9" x2="903.1" y2="280.5"/>
<line class="ld" x1="925.7" y1="274.5" x2="916.8" y2="250.6"/>
<line class="ld" x1="703.1" y1="110.6" x2="703.1" y2="150.3"/>
<line class="ld" x1="735.4" y1="165.5" x2="733.6" y2="173.4"/>
<line class="ld" x1="743.7" y1="227.0" x2="747.9" y2="215.5"/>
<line class="ld" x1="671.7" y1="128.8" x2="702.4" y2="174.8"/>
<line class="ld" x1="625.9" y1="250.4" x2="658.3" y2="233.1"/>
<line class="ld" x1="681.4" y1="242.5" x2="682.0" y2="234.5"/>
<circle class="c" cx="400.7" cy="146" r="13.7"/>
<text class="n" x="400.7" y="151.8">8</text>
<circle class="c" cx="575" cy="167.3" r="13.7"/>
<text class="n" x="575" y="173.1">5</text>
<circle class="c" cx="590.6" cy="308.4" r="13.7"/>
<text class="n" x="590.6" y="314.2">4</text>
<circle class="c" cx="623.3" cy="430.7" r="13.7"/>
<text class="n" x="623.3" y="436.5">2</text>
<circle class="c" cx="615.7" cy="484" r="13.7"/>
<text class="n" x="615.7" y="489.8">3</text>
<circle class="c" cx="548.3" cy="470.2" r="13.7"/>
<text class="n" x="548.3" y="476.0">6</text>
<circle class="c" cx="294.4" cy="399.8" r="13.7"/>
<text class="n" x="294.4" y="405.6">7</text>
<circle class="c" cx="579.8" cy="543" r="13.7"/>
<text class="n" x="579.8" y="548.8">9</text>
<circle class="c" cx="716.3" cy="614" r="13.7"/>
<text class="n" x="716.3" y="619.8">10</text>
<circle class="c" cx="712" cy="656" r="13.7"/>
<text class="n" x="712" y="661.8">28</text>
<circle class="c" cx="230.7" cy="519.3" r="13.7"/>
<text class="n" x="230.7" y="525.1">15</text>
<circle class="c" cx="118.3" cy="909.7" r="13.7"/>
<text class="n" x="118.3" y="915.5">16</text>
<circle class="c" cx="424.3" cy="1027.3" r="13.7"/>
<text class="n" x="424.3" y="1033.1">14</text>
<circle class="c" cx="570" cy="999.7" r="13.7"/>
<text class="n" x="570" y="1005.5">13</text>
<circle class="c" cx="614.7" cy="916.3" r="13.7"/>
<text class="n" x="614.7" y="922.1">17</text>
<circle class="c" cx="665.7" cy="914" r="13.7"/>
<text class="n" x="665.7" y="919.8">12</text>
<circle class="c" cx="688.2" cy="709.3" r="13.7"/>
<text class="n" x="688.2" y="715.1">11</text>
<circle class="c" cx="820.3" cy="686.7" r="13.7"/>
<text class="n" x="820.3" y="692.5">27</text>
<circle class="c" cx="787.3" cy="294" r="13.7"/>
<text class="n" x="787.3" y="299.8">1</text>
<circle class="c" cx="886.7" cy="84" r="13.7"/>
<text class="n" x="886.7" y="89.8">26</text>
<circle class="c" cx="900" cy="117.3" r="13.7"/>
<text class="n" x="900" y="123.1">23</text>
<circle class="c" cx="849.6" cy="156.6" r="13.7"/>
<text class="n" x="849.6" y="162.4">22</text>
<circle class="c" cx="850.2" cy="192.5" r="13.7"/>
<text class="n" x="850.2" y="198.3">21</text>
<circle class="c" cx="933" cy="157.5" r="13.7"/>
<text class="n" x="933" y="163.3">24</text>
<circle class="c" cx="833.4" cy="307" r="13.7"/>
<text class="n" x="833.4" y="312.8">20</text>
<circle class="c" cx="886" cy="313" r="13.7"/>
<text class="n" x="886" y="318.8">25</text>
<circle class="c" cx="930.5" cy="287.3" r="13.7"/>
<text class="n" x="930.5" y="293.1">19</text>
<circle class="c" cx="703.1" cy="96.9" r="13.7"/>
<text class="n" x="703.1" y="102.7">23</text>
<circle class="c" cx="738.4" cy="152.1" r="13.7"/>
<text class="n" x="738.4" y="157.9">21</text>
<circle class="c" cx="739" cy="239.9" r="13.7"/>
<text class="n" x="739" y="245.7">20</text>
<circle class="c" cx="664.1" cy="117.4" r="13.7"/>
<text class="n" x="664.1" y="123.2">22</text>
<circle class="c" cx="613.8" cy="256.8" r="13.7"/>
<text class="n" x="613.8" y="262.6">18</text>
<circle class="c" cx="680.4" cy="256.2" r="13.7"/>
<text class="n" x="680.4" y="262.0">19</text>
</g>
</svg>
</body></html>
